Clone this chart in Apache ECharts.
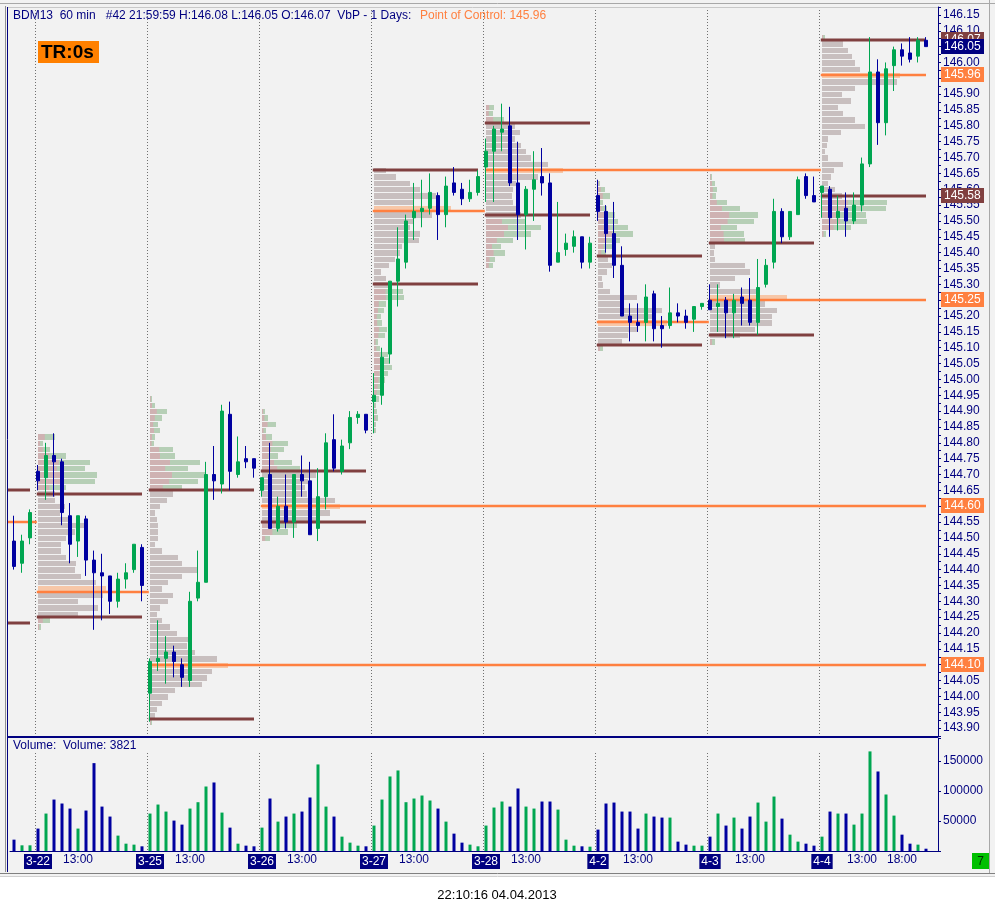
<!DOCTYPE html>
<html>
<head>
<meta charset="utf-8">
<title>BDM13 60 min</title>
<script src="https://cdn.jsdelivr.net/npm/echarts@6/dist/echarts.min.js"></script>
<style>
html, body { margin: 0; padding: 0; background: #fff; }
#chart { width: 995px; height: 914px; background: linear-gradient(#f2f2f2 0, #f2f2f2 876px, #fff 876px); }
</style>
</head>
<body>
<div id="chart"></div>
<script>
// sessions shown on the chart
var days = ['3-21', '3-22', '3-25', '3-26', '3-27', '3-28', '4-2', '4-3', '4-4'];
var preHours = ['19:00', '20:00', '21:00'];
var sessionHours = ['08:00', '09:00', '10:00', '11:00', '12:00', '13:00', '14:00',
                    '15:00', '16:00', '17:00', '18:00', '19:00', '20:00', '21:00'];
var timeTicks = ['13:00'];
var extraTicks = ['4-4 18:00'];

// candles: [open, close, low, high]
var c0321 = [[144.49, 144.41, 144.40, 144.57], [144.42, 144.49, 144.39, 144.51], [144.50, 144.58, 144.48, 144.59]];
var c0322 = [[144.71, 144.68, 144.65, 144.73], [144.69, 144.76, 144.62, 144.80], [144.76, 144.74, 144.63, 144.83],
             [144.74, 144.58, 144.54, 144.75], [144.57, 144.48, 144.42, 144.61], [144.49, 144.57, 144.44, 144.57],
             [144.56, 144.43, 144.38, 144.57], [144.43, 144.39, 144.21, 144.46], [144.39, 144.38, 144.24, 144.45],
             [144.38, 144.30, 144.26, 144.38], [144.30, 144.37, 144.28, 144.39], [144.37, 144.39, 144.34, 144.42],
             [144.40, 144.48, 144.39, 144.48], [144.47, 144.35, 144.30, 144.48]];
var c0325 = [[144.01, 144.11, 143.92, 144.12], [144.11, 144.12, 144.08, 144.24], [144.12, 144.14, 144.04, 144.19],
             [144.14, 144.11, 144.06, 144.16], [144.10, 144.06, 144.03, 144.12], [144.05, 144.30, 144.03, 144.33],
             [144.31, 144.36, 144.30, 144.46], [144.36, 144.70, 144.36, 144.74], [144.70, 144.68, 144.62, 144.79],
             [144.67, 144.90, 144.64, 144.92], [144.89, 144.71, 144.65, 144.93], [144.70, 144.74, 144.69, 144.82],
             [144.75, 144.74, 144.72, 144.79], [144.75, 144.72, 144.69, 144.75]];
var c0326 = [[144.65, 144.69, 144.63, 144.69], [144.70, 144.53, 144.53, 144.80], [144.53, 144.60, 144.52, 144.63],
             [144.60, 144.55, 144.53, 144.70], [144.55, 144.70, 144.50, 144.70], [144.70, 144.68, 144.63, 144.76],
             [144.68, 144.51, 144.51, 144.74], [144.53, 144.63, 144.49, 144.72], [144.63, 144.80, 144.59, 144.83],
             [144.81, 144.72, 144.71, 144.89], [144.71, 144.79, 144.70, 144.81], [144.80, 144.88, 144.78, 144.90],
             [144.88, 144.89, 144.86, 144.90], [144.89, 144.84, 144.83, 144.89]];
var c0327 = [[144.93, 144.95, 144.83, 145.02], [144.95, 145.07, 144.92, 145.10], [145.08, 145.31, 145.05, 145.31],
             [145.31, 145.38, 145.23, 145.48], [145.37, 145.50, 145.35, 145.52], [145.51, 145.53, 145.44, 145.62],
             [145.53, 145.54, 145.48, 145.63], [145.54, 145.59, 145.52, 145.65], [145.58, 145.52, 145.44, 145.59],
             [145.52, 145.61, 145.48, 145.64], [145.62, 145.59, 145.58, 145.67], [145.60, 145.57, 145.55, 145.62],
             [145.57, 145.59, 145.56, 145.63], [145.59, 145.64, 145.58, 145.66]];
var c0328 = [[145.67, 145.72, 145.56, 145.76], [145.72, 145.79, 145.56, 145.80], [145.78, 145.79, 145.72, 145.87],
             [145.80, 145.62, 145.61, 145.86], [145.62, 145.52, 145.44, 145.75], [145.52, 145.60, 145.41, 145.61],
             [145.60, 145.63, 145.50, 145.72], [145.64, 145.62, 145.58, 145.73], [145.62, 145.36, 145.34, 145.65],
             [145.37, 145.40, 145.37, 145.56], [145.41, 145.43, 145.39, 145.46], [145.42, 145.45, 145.40, 145.47],
             [145.45, 145.37, 145.35, 145.45], [145.37, 145.43, 145.35, 145.45]];
var c0402 = [[145.58, 145.53, 145.50, 145.63], [145.53, 145.46, 145.40, 145.55], [145.46, 145.36, 145.32, 145.56],
             [145.36, 145.20, 145.20, 145.42], [145.20, 145.18, 145.12, 145.24], [145.18, 145.17, 145.15, 145.24],
             [145.18, 145.26, 145.12, 145.30], [145.27, 145.16, 145.12, 145.28], [145.17, 145.16, 145.10, 145.20],
             [145.17, 145.21, 145.16, 145.29], [145.21, 145.20, 145.18, 145.24], [145.20, 145.18, 145.16, 145.22],
             [145.19, 145.23, 145.15, 145.23], [145.23, 145.24, 145.22, 145.24]];
var c0403 = [[145.25, 145.22, 145.22, 145.30], [145.23, 145.24, 145.15, 145.30], [145.25, 145.21, 145.13, 145.26],
             [145.21, 145.25, 145.13, 145.27], [145.26, 145.24, 145.17, 145.29], [145.25, 145.18, 145.17, 145.32],
             [145.18, 145.29, 145.14, 145.38], [145.30, 145.36, 145.29, 145.38], [145.37, 145.53, 145.35, 145.57],
             [145.53, 145.45, 145.43, 145.54], [145.45, 145.53, 145.44, 145.53], [145.52, 145.63, 145.52, 145.64],
             [145.64, 145.58, 145.57, 145.65], [145.58, 145.56, 145.56, 145.64]];
var c0404 = [[145.59, 145.61, 145.51, 145.61], [145.60, 145.51, 145.45, 145.61], [145.51, 145.53, 145.47, 145.58],
             [145.54, 145.50, 145.45, 145.59], [145.50, 145.55, 145.49, 145.59], [145.55, 145.68, 145.53, 145.70],
             [145.68, 145.97, 145.67, 146.08], [145.97, 145.81, 145.74, 146.01], [145.81, 145.98, 145.77, 146.00],
             [145.99, 146.04, 145.91, 146.05], [146.04, 146.02, 145.99, 146.06], [146.03, 146.01, 146.00, 146.08],
             [146.02, 146.07, 146.00, 146.08], [146.07, 146.05, 146.05, 146.08]];
var candleDays = [c0321, c0322, c0325, c0326, c0327, c0328, c0402, c0403, c0404];

// hourly volume
var v0321 = [18900, 9450, 9450];
var v0322 = [37300, 62300, 85600, 79000, 70600, 37300, 67300, 146200, 73900, 57300, 25600, 12200, 10600, 7800];
var v0325 = [62300, 77300, 65600, 50600, 43900, 70600, 81200, 107300, 114000, 63900, 38900, 12200, 8900, 7800];
var v0326 = [38900, 87300, 48900, 57300, 62300, 65600, 89000, 144000, 73900, 57300, 23900, 13900, 8900, 7800];
var v0327 = [42300, 85600, 124000, 134000, 81200, 87300, 92300, 84000, 70600, 48900, 28900, 13900, 10600, 7800];
var v0328 = [42300, 72300, 82300, 73900, 104000, 73900, 70600, 82300, 82300, 68900, 18900, 8900, 7800, 7200];
var v0402 = [35600, 79000, 80600, 65600, 65600, 37300, 62300, 57300, 55600, 55600, 15600, 10600, 8900, 8900];
var v0403 = [23900, 62300, 42300, 55600, 37300, 57300, 80600, 48900, 90600, 53900, 27200, 15600, 12200, 8900];
var v0404 = [23900, 65600, 62300, 62300, 43900, 62300, 165700, 132300, 94000, 58900, 27200, 12200, 10600, 3821];
var volumeDays = [v0321, v0322, v0325, v0326, v0327, v0328, v0402, v0403, v0404];

// volume-at-price profiles: top price, then volume per 0.02 row going down
var profileTop = [null, 144.82, 144.94, 144.90, 145.66, 145.86, 145.62, 145.64, 146.08];
var p0322 = [17, 5, 12, 28, 52, 47, 59, 57, 28, 17, 17, 27, 22, 32, 50, 37, 28, 23, 23, 28, 38, 37, 43, 58, 68, 65, 40, 60, 40, 12, 3];
var p0325 = [2, 5, 17, 12, 8, 10, 5, 4, 23, 25, 50, 38, 55, 48, 32, 23, 17, 10, 5, 7, 8, 8, 8, 5, 12, 28,
             32, 48, 32, 18, 12, 23, 18, 10, 7, 12, 20, 27, 42, 37, 45, 67, 78, 62, 57, 52, 25, 18, 12, 7, 5, 2];
var p0326 = [3, 6, 14, 4, 10, 26, 22, 16, 30, 38, 54, 46, 43, 45, 73, 78, 68, 58, 35, 26, 8];
var p0327 = [12, 22, 36, 46, 62, 40, 77, 58, 40, 36, 46, 45, 28, 26, 21, 15, 7, 12, 14, 29, 30,
             12, 10, 7, 8, 13, 11, 4, 6, 14, 16, 18, 14, 11, 9, 7, 5, 2, 3, 4, 2, 2];
var p0328 = [8, 7, 18, 29, 34, 29, 35, 40, 45, 62, 77, 52, 30, 27, 26, 27, 30, 35, 40, 55, 45, 27, 15, 19, 9, 7];
var p0402 = [2, 7, 12, 5, 9, 17, 20, 30, 35, 22, 14, 8, 10, 14, 9, 4, 5, 12, 39, 25, 64, 55, 69, 40, 30, 24, 5];
var p0403 = [2, 5, 7, 6, 17, 30, 48, 44, 27, 34, 35, 5, 4, 5, 35, 40, 25, 10, 50, 77, 55, 67, 62, 62, 45, 30, 5];
var p0404 = [3, 21, 26, 30, 33, 38, 78, 75, 33, 20, 29, 16, 21, 33, 43, 19, 6, 5, 3, 6, 21, 12, 9, 6, 13, 20, 65, 64, 44, 45, 29, 4];
var profiles = [null, p0322, p0325, p0326, p0327, p0328, p0402, p0403, p0404];

// value area high / low and point of control per session
var vah = [144.65, 144.64, 144.65, 144.71, 145.66, 145.81, 145.39, 145.43, 146.07];
var val = [144.23, 144.25, 143.93, 144.55, 145.30, 145.52, 145.11, 145.14, 145.58];
var poc = [144.55, 144.33, 144.10, 144.60, 145.53, 145.66, 145.18, 145.25, 145.96];

var ROW = 0.02;
var PROFILE_UNIT = 1 / 8;   // bars of width per volume unit
var GREEN = '#00a651', BLUE = '#0000a0', BROWN = '#804040', ORANGE = '#ff8040', NAVY = '#000080';
var TAG_COLORS = [BROWN, ORANGE, NAVY];
var FONT = 'Liberation Sans, Arial, sans-serif';

var cats = [], ohlc = [], vols = [], dayStart = [], dayLast = [];
days.forEach(function (d, i) {
    var hrs = i === 0 ? preHours : sessionHours;
    dayStart.push(cats.length - (sessionHours.length - hrs.length));
    hrs.forEach(function (h, j) {
        cats.push(d + ' ' + h);
        ohlc.push(candleDays[i][j]);
        vols.push(volumeDays[i][j]);
    });
    dayLast.push(cats.length - 1);
});
var lastIdx = cats.length - 1;
var axisCats = cats.concat(['']);
var xMax = axisCats.length - 0.5;

var volData = vols.map(function (v, k) {
    return { value: v, itemStyle: { color: ohlc[k][1] >= ohlc[k][0] ? GREEN : BLUE } };
});

// profile rows
var profileItems = [];
for (var i = 1; i < days.length; i++) {
    var w = profiles[i];
    var maxJ = w.indexOf(Math.max.apply(null, w));
    for (var j = 0; j < w.length; j++) {
        var p = +(profileTop[i] - j * ROW).toFixed(2);
        var kind = j === maxJ ? 2 : (p <= vah[i] + 0.005 && p >= val[i] - 0.005 ? 0 : 1);
        profileItems.push([dayStart[i], p, w[j], kind]);
    }
}

// VA / POC levels; a POC runs on until a later session trades through it
function firstTouch(day, price) {
    for (var d = day + 1; d < days.length; d++) {
        for (var k = Math.max(dayStart[d], 0); k <= dayLast[d]; k++) {
            if (ohlc[k][2] <= price && ohlc[k][3] >= price) return d;
        }
    }
    return -1;
}
var levelItems = [], tagItems = [];
days.forEach(function (d, i) {
    var s = Math.max(dayStart[i] - 0.15, -0.75);
    levelItems.push([s, dayLast[i], vah[i], 0]);
    levelItems.push([s, dayLast[i], val[i], 0]);
    var t = firstTouch(i, poc[i]);
    var e = t < 0 ? lastIdx : dayStart[t] - 0.15;
    levelItems.push([s, e, poc[i], 1]);
    if (dayLast[i] === lastIdx) {
        tagItems.push([lastIdx, vah[i], 0]);
        tagItems.push([lastIdx, val[i], 0]);
    }
    if (e === lastIdx) tagItems.push([lastIdx, poc[i], 1]);
});
tagItems.push([lastIdx, ohlc[lastIdx][1], 2]);

var dividerItems = dayStart.slice(1).map(function (s) { return [s, 145]; });
var volDividerItems = dayStart.slice(1).map(function (s) { return [s, 0]; });

function renderProfile(params, api) {
    var s = api.value(0), p = api.value(1), v = api.value(2), k = api.value(3);
    var a = api.coord([s, p + ROW / 2]);
    var b = api.coord([s + v * PROFILE_UNIT, p - ROW / 2]);
    var y = Math.round(a[1]) + 1;
    var h = Math.max(1, Math.round(b[1]) - Math.round(a[1]) - 1);
    var x = a[0], wd = b[0] - a[0];
    if (k === 2) {
        return { type: 'rect', shape: { x: x, y: y, width: wd, height: h }, style: { fill: '#f7c7a8' } };
    }
    if (k === 1) {
        return {
            type: 'group', children: [
                { type: 'rect', shape: { x: x, y: y, width: wd, height: h }, style: { fill: '#b6cfb6' } },
                { type: 'rect', shape: { x: x, y: y, width: wd * 0.4, height: h }, style: { fill: '#cfb2b2' } }
            ]
        };
    }
    return { type: 'rect', shape: { x: x, y: y, width: wd, height: h }, style: { fill: '#c8bfbf' } };
}

function renderLevel(params, api) {
    var a = api.coord([api.value(0), api.value(2)]);
    var b = api.coord([api.value(1), api.value(2)]);
    var isPoc = api.value(3) === 1;
    var y = Math.round(a[1]);
    return {
        type: 'line',
        shape: { x1: a[0], y1: y, x2: b[0], y2: y },
        style: { stroke: isPoc ? ORANGE : BROWN, lineWidth: isPoc ? 2.5 : 3 }
    };
}

// price tags sitting on the right axis
function renderTag(params, api) {
    var cs = params.coordSys;
    var yc = Math.round(api.coord([api.value(0), api.value(1)])[1]);
    var x = cs.x + cs.width + 3;
    return {
        type: 'group', children: [
            { type: 'rect', shape: { x: x, y: yc - 8, width: 43, height: 15 },
              style: { fill: TAG_COLORS[api.value(2)] } },
            { type: 'text', x: x + 3, y: yc,
              style: { text: api.value(1).toFixed(2), fill: '#fff', font: '12px ' + FONT, textVerticalAlign: 'middle' } }
        ]
    };
}

function dividerRenderer(offset) {
    return function (params, api) {
        var x = Math.round(api.coord([api.value(0) - 0.35, api.value(1)])[0]) + 0.5;
        var cs = params.coordSys;
        return {
            type: 'line',
            shape: { x1: x, y1: cs.y + offset, x2: x, y2: cs.y + cs.height },
            style: { stroke: '#707070', lineWidth: 1, lineDash: [1, 2] }
        };
    };
}

var chart = echarts.init(document.getElementById('chart'));
var option = {
    animation: false,
    textStyle: { fontFamily: FONT },
    grid: [
        { left: 10, right: 57, top: 7, height: 729 },
        { left: 10, right: 57, top: 738, height: 113 }
    ],
    xAxis: [
        { type: 'category', gridIndex: 0, data: axisCats, boundaryGap: true,
          axisLine: { show: false }, axisTick: { show: false }, axisLabel: { show: false }, splitLine: { show: false } },
        { type: 'value', gridIndex: 0, min: -0.5, max: xMax, show: false },
        { type: 'category', gridIndex: 1, data: axisCats, boundaryGap: true,
          axisLine: { onZero: false, lineStyle: { color: NAVY } }, axisTick: { show: false }, splitLine: { show: false },
          axisLabel: {
              interval: 0, margin: 3, fontSize: 12, color: NAVY, fontFamily: FONT,
              formatter: function (value) {
                  if (!value) return '';
                  var parts = value.split(' ');
                  if (parts[1] === sessionHours[0]) return '{d|' + parts[0] + '}';
                  if (timeTicks.indexOf(parts[1]) >= 0) return parts[1];
                  if (extraTicks.indexOf(value) >= 0) return parts[1];
                  return '';
              },
              rich: { d: { color: '#fff', backgroundColor: NAVY, padding: [2, 2, 1, 2], fontSize: 12, fontFamily: FONT } }
          } },
        { type: 'value', gridIndex: 1, min: -0.5, max: xMax, show: false }
    ],
    yAxis: [
        { type: 'value', gridIndex: 0, position: 'right', min: 143.875, max: 146.175, interval: 0.025,
          axisLine: { show: true, onZero: false, lineStyle: { color: NAVY } },
          axisTick: { show: true, length: 3, lineStyle: { color: NAVY } },
          splitLine: { show: false },
          axisLabel: {
              margin: 5, color: NAVY, fontSize: 12, fontFamily: FONT,
              formatter: function (v) { return Math.round(v * 1000) % 50 === 0 ? v.toFixed(2) : ''; }
          } },
        { type: 'value', gridIndex: 1, position: 'right', min: 0, max: 188000, interval: 50000,
          axisLine: { show: true, onZero: false, lineStyle: { color: NAVY } },
          axisTick: { show: true, length: 3, lineStyle: { color: NAVY } },
          splitLine: { show: false },
          axisLabel: {
              margin: 5, color: NAVY, fontSize: 12, fontFamily: FONT,
              formatter: function (v) { return v > 0 && v % 50000 === 0 ? String(v) : ''; }
          } }
    ],
    series: [
        { type: 'custom', name: 'dividers', xAxisIndex: 1, yAxisIndex: 0, z: 1, silent: true,
          renderItem: dividerRenderer(0), data: dividerItems },
        { type: 'custom', name: 'profile', xAxisIndex: 1, yAxisIndex: 0, z: 2, silent: true,
          renderItem: renderProfile, data: profileItems },
        { type: 'custom', name: 'levels', xAxisIndex: 1, yAxisIndex: 0, z: 3, silent: true,
          encode: { x: [0, 1], y: 2 }, renderItem: renderLevel, data: levelItems },
        { type: 'candlestick', name: 'BDM13', xAxisIndex: 0, yAxisIndex: 0, z: 4, barWidth: 4,
          itemStyle: { color: GREEN, color0: BLUE, borderColor: GREEN, borderColor0: BLUE, borderWidth: 1 },
          data: ohlc },
        { type: 'custom', name: 'tags', xAxisIndex: 1, yAxisIndex: 0, z: 20, silent: true, clip: false,
          renderItem: renderTag, data: tagItems },
        { type: 'custom', name: 'volDividers', xAxisIndex: 3, yAxisIndex: 1, z: 1, silent: true,
          renderItem: dividerRenderer(15), data: volDividerItems },
        { type: 'bar', name: 'Volume', xAxisIndex: 2, yAxisIndex: 1, barWidth: 3, z: 3, data: volData }
    ],
    graphic: [
        { type: 'line', shape: { x1: 0, y1: 3.5, x2: 995, y2: 3.5 }, style: { stroke: '#a8a8a8' }, z: 50 },
        { type: 'line', shape: { x1: 7, y1: 7.5, x2: 938, y2: 7.5 }, style: { stroke: '#c8c8c8' }, z: 50 },
        { type: 'line', shape: { x1: 5.5, y1: 6, x2: 5.5, y2: 872 }, style: { stroke: '#909090' }, z: 50 },
        { type: 'line', shape: { x1: 7.5, y1: 7, x2: 7.5, y2: 872 }, style: { stroke: NAVY }, z: 50 },
        { type: 'line', shape: { x1: 7, y1: 737, x2: 938, y2: 737 }, style: { stroke: NAVY, lineWidth: 2 }, z: 50 },
        { type: 'line', shape: { x1: 989.5, y1: 0, x2: 989.5, y2: 874 }, style: { stroke: '#a8a8a8' }, z: 50 },
        { type: 'line', shape: { x1: 0, y1: 873.5, x2: 995, y2: 873.5 }, style: { stroke: '#808080' }, z: 50 },
        { type: 'line', shape: { x1: 0, y1: 876.5, x2: 995, y2: 876.5 }, style: { stroke: '#d0d0d0' }, z: 50 },
        { type: 'text', x: 13, y: 16, z: 50,
          style: { text: 'BDM13  60 min   #42 21:59:59 H:146.08 L:146.05 O:146.07  VbP - 1 Days:',
                   fill: NAVY, font: '12px ' + FONT, textVerticalAlign: 'middle' } },
        { type: 'text', x: 420, y: 16, z: 50,
          style: { text: 'Point of Control: 145.96', fill: ORANGE, font: '12px ' + FONT, textVerticalAlign: 'middle' } },
        { type: 'rect', shape: { x: 38, y: 41, width: 61, height: 22 }, style: { fill: '#ff8000' }, z: 50 },
        { type: 'text', x: 41, y: 52.5, z: 51,
          style: { text: 'TR:0s', fill: '#000', font: 'bold 19px ' + FONT, textVerticalAlign: 'middle' } },
        { type: 'text', x: 13, y: 746, z: 50,
          style: { text: 'Volume:  Volume: 3821', fill: NAVY, font: '12px ' + FONT, textVerticalAlign: 'middle' } },
        { type: 'rect', shape: { x: 972, y: 853, width: 17, height: 16 }, style: { fill: '#00c000' }, z: 50 },
        { type: 'text', x: 980.5, y: 861.5, z: 51,
          style: { text: '7', fill: '#003000', font: '12px ' + FONT, textAlign: 'center', textVerticalAlign: 'middle' } },
        { type: 'text', x: 497, y: 895, z: 50,
          style: { text: '22:10:16 04.04.2013', fill: '#000', font: '13px ' + FONT, textAlign: 'center', textVerticalAlign: 'middle' } }
    ]
};
chart.setOption(option);
</script>
</body>
</html>
